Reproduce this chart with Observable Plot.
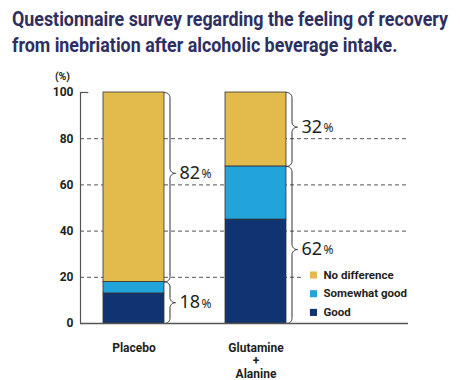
<!DOCTYPE html>
<html>
<head>
<meta charset="utf-8">
<script src="https://cdn.jsdelivr.net/npm/d3@7"></script>
<script src="https://cdn.jsdelivr.net/npm/@observablehq/plot@0.6"></script>
<style>
  html, body { margin: 0; padding: 0; background: #fff; }
  #title {
    font-family: "Roboto", sans-serif;
    font-weight: bold; font-size: 20px; line-height: 26px;
    color: #2e2f5f; padding: 6px 0 0 12px; height: 55px; box-sizing: border-box;
    width: 460px; overflow: visible;
  }
  #title span { display: inline-block; white-space: nowrap; transform-origin: 0 50%; }
  #chart svg { display: block; }
</style>
</head>
<body>
<div id="title"><span>Questionnaire survey regarding the feeling of recovery</span><br><span>from inebriation after alcoholic beverage intake.</span></div>
<div id="chart"></div>
<script>
// ---- data ----
const categories = ["Placebo", "Glutamine\n+\nAlanine"];
const series = ["Good", "Somewhat good", "No difference"];
const good = [13, 45];
const somewhatGood = [5, 23];
const noDifference = [82, 32];
const seriesColors = ["#0f3471", "#22a3d9", "#e3ba4c"];
const yTicks = [0, 20, 40, 60, 80, 100];
// braces: which bar, lower / upper bound, tip value, label
const braceBar = [0, 0, 1, 1];
const braceLow = [0, 18, 0, 68];
const braceHigh = [18, 100, 68, 100];
const braceTip = [9, 65, 32, 85];
const braceText = ["18", "82", "62", "32"];
const legendItems = ["No difference", "Somewhat good", "Good"];

// ---- title fit (condensed look) ----
const spans = document.querySelectorAll("#title span");
const w0 = spans[0].getBoundingClientRect().width;
const sx = 436 / w0;
spans.forEach(s => s.style.transform = `scaleX(${sx})`);

// ---- build tables ----
const values = [good, somewhatGood, noDifference];
const stacked = [];
categories.forEach((c, i) => {
  let base = 0;
  series.forEach((s, k) => {
    const v = values[k][i];
    stacked.push({pos: i + 1, series: s, y1: base, y2: base + v});
    base += v;
  });
});

const halfW = 0.25;     // bar half width (x units)
const xMin = 0.5615, xMax = 3.25;
const rx = 0.045, ry = 2.2;

const bracePts = [];
braceBar.forEach((b, j) => {
  const x0 = b + 1 + halfW, lo = braceLow[j], hi = braceHigh[j], tip = braceTip[j];
  const arc = (cx, cy, a0, a1) => {
    for (let t = 0; t <= 8; t++) {
      const a = (a0 + (a1 - a0) * t / 8) * Math.PI / 180;
      bracePts.push({id: j, x: cx + rx * Math.cos(a), y: cy + ry * Math.sin(a)});
    }
  };
  arc(x0, hi - ry, 90, 0);
  arc(x0 + 2 * rx, tip + ry, 180, 270);
  arc(x0 + 2 * rx, tip - ry, 90, 180);
  arc(x0, lo + ry, 0, -90);
});
const braceLabels = braceBar.map((b, j) => ({x: b + 1 + halfW + 2 * rx, y: braceTip[j], t: braceText[j]}));

const legendX = 2.471;
const legendData = legendItems.map((name, i) => ({name, y: 21 - i * 8.1}));

const chart = Plot.plot({
  width: 460,
  height: 325,
  marginLeft: 80,
  marginRight: 52,
  marginTop: 37,
  marginBottom: 57,
  style: {fontFamily: "Roboto, sans-serif", fontSize: "12px", fontWeight: "bold", color: "#231f20"},
  x: {domain: [xMin, xMax], axis: null},
  y: {domain: [0, 100], ticks: yTicks, tickSize: 0, tickPadding: 7, label: null},
  color: {domain: series, range: seriesColors},
  marks: [
    Plot.ruleY(yTicks.filter(d => d > 0 && d < 100), {x1: xMin, x2: xMax, stroke: "#555", strokeDasharray: "4,3", strokeWidth: 1}),
    Plot.ruleY([100], {x1: xMin, x2: xMin + 0.068, stroke: "#555", strokeWidth: 1.2}),
    Plot.rect([0], {x1: 2.39, x2: xMax, y1: 1, y2: 25, fill: "white"}),
    Plot.rectY(stacked, {x1: d => d.pos - halfW, x2: d => d.pos + halfW, y1: "y1", y2: "y2", fill: "series", stroke: "#333", strokeWidth: 0.8}),
    Plot.line(bracePts, {x: "x", y: "y", z: "id", stroke: "#333", strokeWidth: 1}),
    Plot.text(braceLabels, {x: "x", y: "y", text: "t", dx: 4, textAnchor: "start", fontSize: 18, fontWeight: "normal", fontFamily: "'Noto Sans', sans-serif", fill: "#231f20"}),
    Plot.text(braceLabels, {x: "x", y: "y", text: () => "%", dx: 26, dy: 1, textAnchor: "start", fontSize: 12, fontWeight: "normal", fontFamily: "'Noto Sans', sans-serif", fill: "#231f20"}),
    Plot.dot(legendData, {x: () => legendX, y: "y", symbol: "square", r: 4, fill: (d) => d.name, stroke: "none"}),
    Plot.text(legendData, {x: () => legendX, y: "y", text: "name", dx: 10, textAnchor: "start", fontSize: 11.5, fill: "#231f20"}),
    Plot.text(categories, {x: (d, i) => i + 1, y: () => 0, text: d => d, dy: 20, lineAnchor: "top", lineHeight: 1.05, fontSize: 12, fill: "#231f20"}),
    Plot.text(["(%)"], {x: () => xMin, y: () => 100, dx: -18, dy: -16, fontSize: 10.5, fill: "#231f20"}),
    Plot.ruleX([xMin], {y1: 0, y2: 100, stroke: "#555", strokeWidth: 1.2}),
    Plot.ruleY([0], {x1: xMin, x2: xMax, stroke: "#555", strokeWidth: 1.5})
  ]
});
document.getElementById("chart").appendChild(chart);
</script>
</body>
</html>
